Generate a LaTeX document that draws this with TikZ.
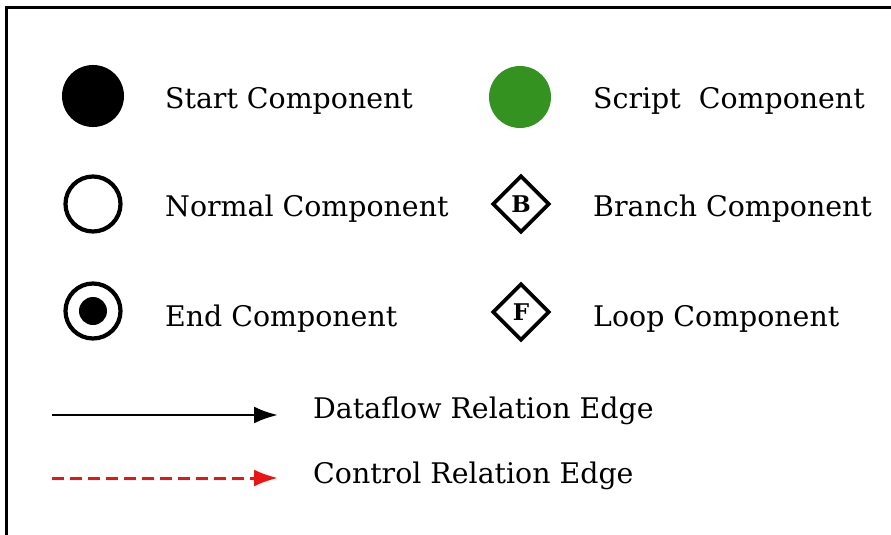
\documentclass[tikz,border=0pt]{standalone}
\usepackage{fontspec}
\setmainfont{DejaVu Serif}
\usetikzlibrary{arrows.meta,shapes.geometric}
\definecolor{scriptgreen}{RGB}{52,146,32}
\definecolor{ctrlred}{RGB}{235,20,20}
\tikzset{
  lbl/.style={anchor=west, inner sep=0pt, font=\fontsize{28.4}{30}\selectfont},
  startnode/.style={circle, fill=black, minimum size=62pt, inner sep=0pt},
  scriptnode/.style={circle, fill=scriptgreen, minimum size=62pt, inner sep=0pt},
  normalnode/.style={circle, draw=black, line width=4.2pt, minimum size=55pt, inner sep=0pt},
  enddot/.style={circle, fill=black, minimum size=28pt, inner sep=0pt},
  gate/.style={diamond, draw=black, line width=3.8pt, minimum size=57pt, inner sep=0pt,
    font=\bfseries\fontsize{23}{24}\selectfont},
  dataedge/.style={line width=2.8pt, -{Latex[length=24pt,width=17pt]}},
  ctrledge/.style={ctrlred, line width=3pt, dash pattern=on 12pt off 6pt,
    -{Latex[length=24pt,width=17pt]}}
}
\begin{document}
\begin{tikzpicture}[x=1pt,y=-1pt]
\useasboundingbox (0,0) rectangle (891,535);
\fill[white] (0,0) rectangle (891,535);
% frame, open at right and bottom
\draw[line width=3pt] (6,540) -- (6,8) -- (895,8);

% component symbols
\node[startnode] (start) at (93,96) {};
\node[normalnode] (normal) at (93,204) {};
\node[normalnode] (endo) at (93,311) {};
\node[enddot] (endi) at (93,311) {};
\node[scriptnode] (script) at (520,97) {};
\node[gate] (branch) at (521,204) {B};
\node[gate] (loop) at (521,312) {F};

% labels
\node[lbl] (tstart) at (165,101) {Start Component};
\node[lbl] (tnormal) at (165,209) {Normal Component};
\node[lbl] (tend) at (165,319) {End Component};
\node[lbl] (tscript) at (593,101) {Script\ \ Component};
\node[lbl] (tbranch) at (593,209) {Branch Component};
\node[lbl] (tloop) at (593,319) {Loop Component};

% edge samples
\coordinate (d0) at (52,415);
\coordinate (d1) at (278,415);
\coordinate (c0) at (52,478);
\coordinate (c1) at (278,478);
\draw[dataedge] (d0) -- (d1);
\draw[ctrledge] (c0) -- (c1);
\node[lbl] (tdata) at (313,411) {Dataflow Relation Edge};
\node[lbl] (tctrl) at (313,476) {Control Relation Edge};
\end{tikzpicture}
\end{document}
